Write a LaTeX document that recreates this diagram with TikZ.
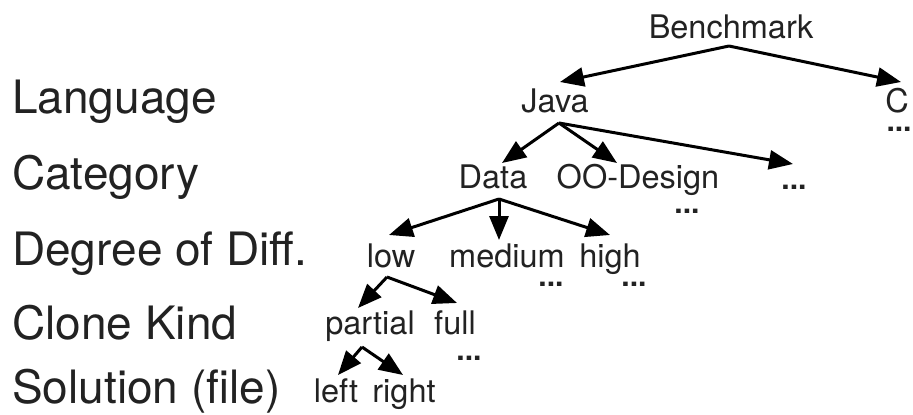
\documentclass[tikz,border=0pt]{standalone}
\usepackage{fontspec}
\setmainfont{TeX Gyre Heros}
\usetikzlibrary{arrows.meta}
\definecolor{txt}{HTML}{222222}
\begin{document}
\begin{tikzpicture}[x=1pt,y=-1pt,
  lbl/.style={anchor=base,inner sep=0pt,text=txt,font=\fontsize{32.5}{35}\selectfont},
  dots/.style={anchor=base,inner sep=0pt,text=txt,font=\fontsize{30}{32}\selectfont\bfseries},
  lvl/.style={anchor=base west,inner sep=0pt,text=txt,font=\fontsize{46}{49}\selectfont},
  arr/.style={line width=3pt,-{Triangle[length=24pt,width=19pt]}}]
\useasboundingbox (0,0) rectangle (913,415);
% level labels
\node[lvl] (Llang) at (12,113) {Language};
\node[lvl] (Lcat) at (12,189) {Category};
\node[lvl] (Ldeg) at (12,265) {Degree of Diff.};
\node[lvl] (Lclone) at (12,339) {Clone Kind};
\node[lvl] (Lsol) at (12,403) {Solution (file)};
% tree nodes
\node[lbl] (bench) at (731,38) {Benchmark};
\node[lbl] (java) at (555,112) {Java};
\node[lbl] (c) at (897,112) {C};
\node[dots] (cdots) at (899,131) {...};
\node[lbl] (data) at (493,188) {Data};
\node[lbl] (oo) at (638,188) {OO-Design};
\node[dots] (jdots) at (794,189) {...};
\node[dots] (oodots) at (687,213) {...};
\node[lbl] (low) at (391,267) {low};
\node[lbl] (medium) at (507,267) {medium};
\node[lbl] (high) at (610,267) {high};
\node[dots] (meddots) at (551,286) {...};
\node[dots] (highdots) at (634,286) {...};
\node[lbl] (partial) at (370,334) {partial};
\node[lbl] (full) at (455,334) {full};
\node[dots] (fulldots) at (469,360) {...};
\node[lbl] (left) at (336,402) {left};
\node[lbl] (right) at (404,402) {right};
% connectors
\draw[arr] ([shift={(-2,8)}]bench.base) -- ([shift={(5,-30)}]java.base);
\draw[arr] ([shift={(-2,8)}]bench.base) -- ([shift={(4,-30)}]c.base);
\draw[arr] ([shift={(4,11)}]java.base) -- ([shift={(9,-25)}]data.base);
\draw[arr] ([shift={(4,11)}]java.base) -- ([shift={(-21,-25)}]oo.base);
\draw[arr] ([shift={(4,11)}]java.base) -- ([shift={(-1,-25)}]jdots.base);
\draw[arr] ([shift={(6,11)}]data.base) -- ([shift={(-2,-32)}]low.base);
\draw[arr] ([shift={(6,11)}]data.base) -- ([shift={(-8,-27)}]medium.base);
\draw[arr] ([shift={(6,11)}]data.base) -- ([shift={(0,-32)}]high.base);
\draw[arr] ([shift={(-4,10)}]low.base) -- ([shift={(-12,-26)}]partial.base);
\draw[arr] ([shift={(-4,10)}]low.base) -- ([shift={(2,-31)}]full.base);
\draw[arr] ([shift={(-8,13)}]partial.base) -- ([shift={(2,-27)}]left.base);
\draw[arr] ([shift={(-8,13)}]partial.base) -- ([shift={(-1,-27)}]right.base);
\end{tikzpicture}
\end{document}
